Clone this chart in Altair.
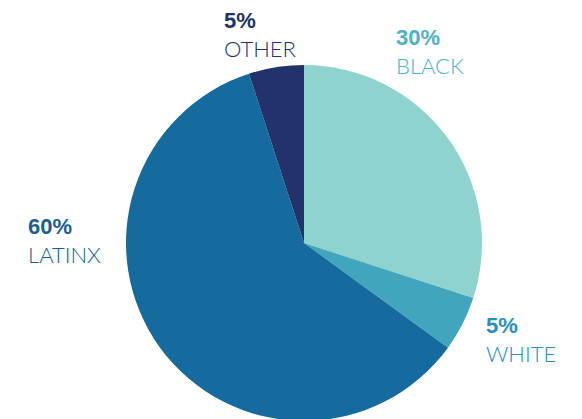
import altair as alt
import pandas as pd

categories = ["BLACK", "WHITE", "LATINX", "OTHER"]
values = [30, 5, 60, 5]
pct_labels = ["30%", "5%", "60%", "5%"]
slice_colors = ["#8fd3ce", "#41a6bd", "#156a9e", "#22326b"]
label_colors = ["#4cb3c6", "#2b8fb7", "#1a5f94", "#22326b"]

df = pd.DataFrame({"cat": categories, "val": values, "order": list(range(len(values)))})

cx, cy, R = 296, 235, 178

pie = alt.Chart(df).mark_arc(outerRadius=R, stroke=None).encode(
    theta=alt.Theta("val:Q", stack=True),
    order=alt.Order("order:Q"),
    color=alt.Color("cat:N", scale=alt.Scale(domain=categories, range=slice_colors), legend=None),
    x=alt.value(cx),
    y=alt.value(cy),
)

# annotation anchor positions (left x, pct baseline) in view pixels
anchors = {"BLACK": (388, 37), "WHITE": (478, 325), "LATINX": (20, 226), "OTHER": (216, 20)}

layers = [pie]
for cat, pct, col in zip(categories, pct_labels, label_colors):
    ax, ay = anchors[cat]
    row = pd.DataFrame({"pct": [pct], "name": [cat]})
    layers.append(alt.Chart(row).mark_text(
        align="left", baseline="alphabetic", font="Liberation Sans", fontSize=22,
        fontWeight="bold", color=col).encode(text="pct:N", x=alt.value(ax), y=alt.value(ay)))
    layers.append(alt.Chart(row).mark_text(
        align="left", baseline="alphabetic", font="Lato", fontSize=22,
        fontWeight=300, color=col).encode(text="name:N", x=alt.value(ax), y=alt.value(ay + 29)))

chart = alt.layer(*layers).properties(
    width=566, height=411, padding=0, autosize=alt.AutoSizeParams(type="none")
).configure_view(stroke=None)

chart.save("out.html", embed_options={"renderer": "svg", "actions": False})
